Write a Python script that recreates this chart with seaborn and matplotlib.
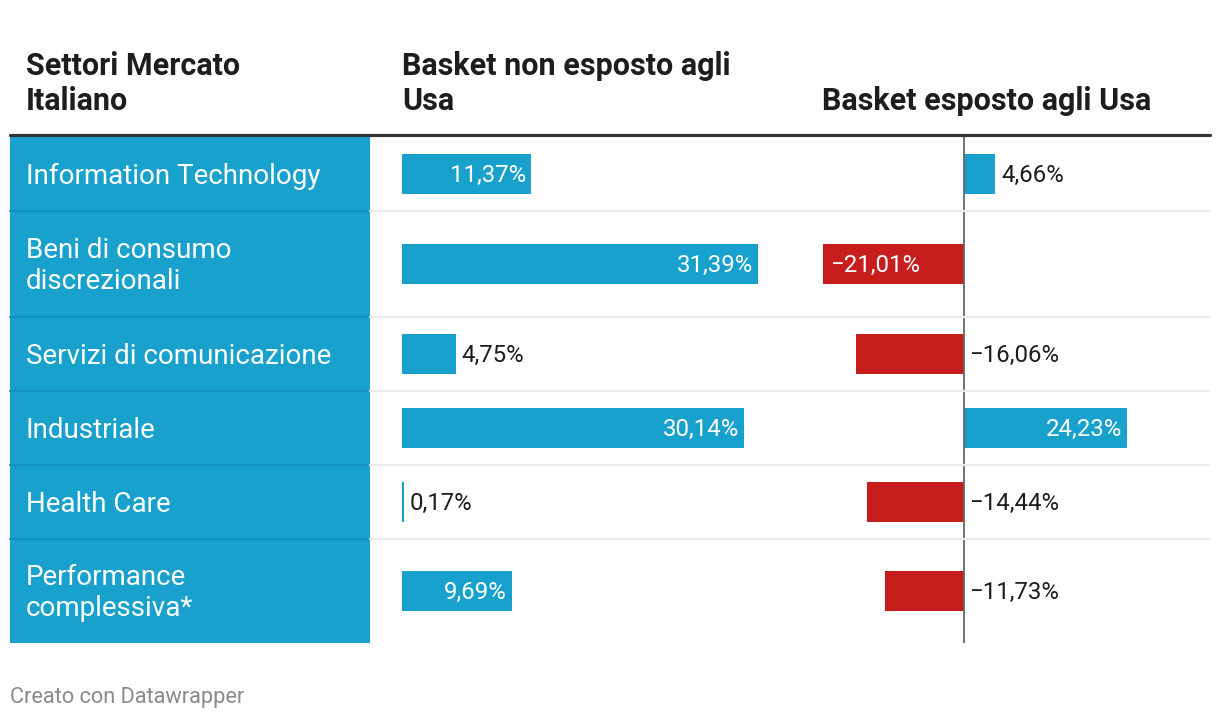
import pandas as pd
import matplotlib.pyplot as plt
import seaborn as sns
from matplotlib.lines import Line2D
from matplotlib.patches import Rectangle

sns.set_theme(style="white")
plt.rcParams['font.family'] = ['Roboto', 'DejaVu Sans']

# data
sectors = ["Information Technology", "Beni di consumo\ndiscrezionali", "Servizi di comunicazione",
           "Industriale", "Health Care", "Performance\ncomplessiva*"]
non_esposto = [11.37, 31.39, 4.75, 30.14, 0.17, 9.69]
esposto = [4.66, -21.01, -16.06, 24.23, -14.44, -11.73]

headers = ["Settori Mercato\nItaliano", "Basket non esposto agli\nUsa", "Basket esposto agli Usa"]
footer = "Creato con Datawrapper"

df = pd.DataFrame({"sector": sectors, "non_esposto": non_esposto, "esposto": esposto})

BLUE = "#18a1cd"
RED = "#c71e1d"
DARK = "#1d1d1d"

W, H = 1220, 720
fig = plt.figure(figsize=(W / 100, H / 100), dpi=100)
fig.patch.set_facecolor("white")


def fx(px):
    return px / W


def fy(py):
    return 1 - py / H


# layout (pixels)
table_left, table_right = 10, 1210
label_col_right = 370
top = 137
row_heights = [74, 106, 74, 74, 74, 104]
bar_px = 40
col2 = dict(x0=402, x1=800, scale=11.34, zero=402)
col3 = dict(x0=800, x1=1210, scale=6.72, zero=964)

bounds = [top]
for h in row_heights:
    bounds.append(bounds[-1] + h)

# blue label column
fig.add_artist(Rectangle((fx(table_left), fy(bounds[-1])), fx(label_col_right - table_left),
                         (bounds[-1] - top) / H, transform=fig.transFigure,
                         facecolor=BLUE, edgecolor="none", zorder=0))

# headers
hsize = 22
hdr1 = headers[0].split("\n")
hdr2 = headers[1].split("\n")
fig.text(fx(26), fy(75), hdr1[0], fontsize=hsize, fontweight="bold", color=DARK, va="baseline")
fig.text(fx(26), fy(110), hdr1[1], fontsize=hsize, fontweight="bold", color=DARK, va="baseline")
fig.text(fx(402), fy(75), hdr2[0], fontsize=hsize, fontweight="bold", color=DARK, va="baseline")
fig.text(fx(402), fy(110), hdr2[1], fontsize=hsize, fontweight="bold", color=DARK, va="baseline")
fig.text(fx(822), fy(110), headers[2], fontsize=hsize, fontweight="bold", color=DARK, va="baseline")

fig.add_artist(Line2D([fx(table_left), fx(table_right)], [fy(135), fy(135)],
                      color="#333333", lw=2.3, transform=fig.transFigure, zorder=5))

renderer = fig.canvas.get_renderer()


def draw_bar(i, col, spec):
    y_top, y_bot = bounds[i], bounds[i + 1]
    h = y_bot - y_top
    x0, x1 = spec["x0"], spec["x1"]
    ax = fig.add_axes([fx(x0), fy(y_bot), fx(x1 - x0), h / H])
    val = df[col].iloc[i]
    sns.barplot(data=df.iloc[[i]], x=col, y="sector", orient="h",
                color=BLUE if val >= 0 else RED, width=bar_px / h,
                saturation=1, edgecolor="none", linewidth=0, ax=ax)
    lo = (x0 - spec["zero"]) / spec["scale"]
    hi = (x1 - spec["zero"]) / spec["scale"]
    ax.set_xlim(lo, hi)
    ax.set_ylim(0.5, -0.5)
    ax.axis("off")
    if spec is col3:
        ax.axvline(0, color="#666666", lw=1.3, zorder=3)

    label = f"{val:.2f}".replace(".", ",").replace("-", "\u2212") + "%"
    t = ax.annotate(label, (val, 0), xytext=(0, 0), textcoords="offset pixels",
                    fontsize=17.3, va="center", color="white")
    tw = t.get_window_extent(renderer).width
    width_px = abs(val) * spec["scale"]
    inside = width_px > tw + 24
    if val >= 0:
        if inside:
            t.set_ha("right")
            t.xyann = (-5, -1)
        else:
            t.set_ha("left")
            t.xyann = (6, -1)
            t.set_color(DARK)
    else:
        if inside:
            t.set_ha("left")
            t.xy = (val, 0)
            t.xyann = (7, -1)
        else:
            t.set_ha("left")
            t.xy = (0, 0)
            t.xyann = (5, -1)
            t.set_color(DARK)


for i in range(len(sectors)):
    yc = (bounds[i] + bounds[i + 1]) / 2
    fig.text(fx(26), fy(yc + 2), sectors[i], fontsize=20, color="white", va="center",
             linespacing=1.15)
    draw_bar(i, "non_esposto", col2)
    draw_bar(i, "esposto", col3)

# row separators
for b in bounds[1:-1]:
    fig.add_artist(Line2D([fx(table_left), fx(label_col_right)], [fy(b), fy(b)],
                          color="#1592bb", lw=1.6, transform=fig.transFigure, zorder=4))
    fig.add_artist(Line2D([fx(label_col_right), fx(table_right)], [fy(b), fy(b)],
                          color="#ececec", lw=1.6, transform=fig.transFigure, zorder=4))

fig.text(fx(10), fy(697), footer, fontsize=15.7, color="#8a8a8a", va="center")

fig.savefig("out.png", dpi=100, facecolor="white")
